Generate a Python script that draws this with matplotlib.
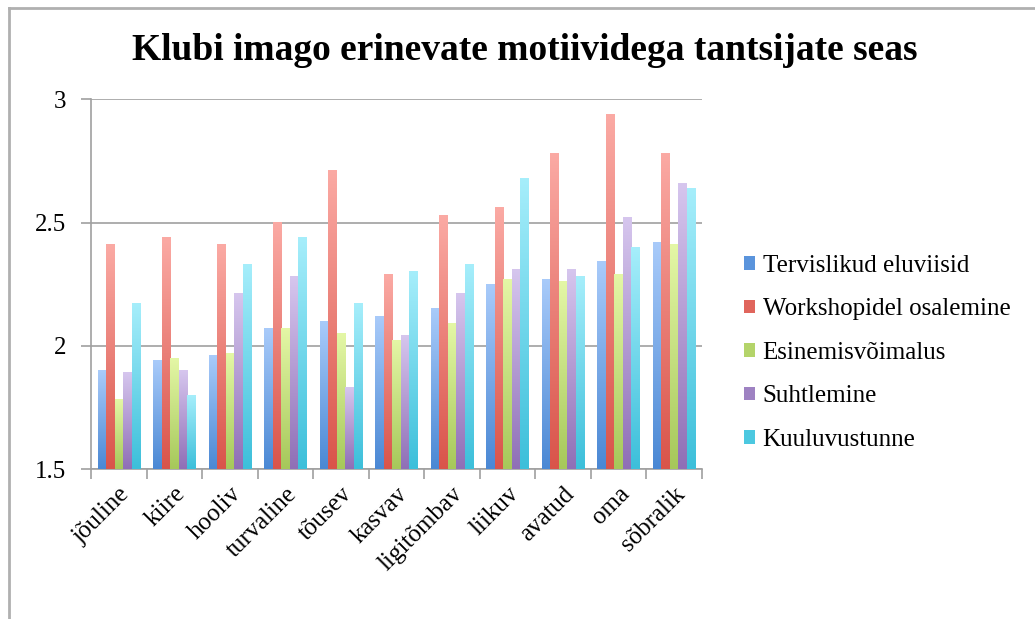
import numpy as np
import matplotlib.pyplot as plt
from matplotlib.colors import LinearSegmentedColormap
from matplotlib.patches import Patch
from matplotlib.lines import Line2D

plt.rcParams["font.family"] = ["Liberation Serif", "DejaVu Serif"]

# Data
categories = ["jõuline", "kiire", "hooliv", "turvaline", "tõusev", "kasvav",
              "ligitõmbav", "liikuv", "avatud", "oma", "sõbralik"]
series_names = ["Tervislikud eluviisid", "Workshopidel osalemine",
                "Esinemisvõimalus", "Suhtlemine", "Kuuluvustunne"]
tervislikud = [1.90, 1.94, 1.96, 2.07, 2.10, 2.12, 2.15, 2.25, 2.27, 2.34, 2.42]
workshopid = [2.41, 2.44, 2.41, 2.50, 2.71, 2.29, 2.53, 2.56, 2.78, 2.94, 2.78]
esinemine = [1.78, 1.95, 1.97, 2.07, 2.05, 2.02, 2.09, 2.27, 2.26, 2.29, 2.41]
suhtlemine = [1.89, 1.90, 2.21, 2.28, 1.83, 2.04, 2.21, 2.31, 2.31, 2.52, 2.66]
kuuluvus = [2.17, 1.80, 2.33, 2.44, 2.17, 2.30, 2.33, 2.68, 2.28, 2.40, 2.64]
yticks = [1.5, 2, 2.5, 3]

all_series = [tervislikud, workshopid, esinemine, suhtlemine, kuuluvus]
# (bottom colour, top colour) for the gradient fill, plus legend colour
gradients = [("#4a88d4", "#a9cbfa"),
             ("#d9544a", "#fbaaa4"),
             ("#a6c85a", "#e4f7a6"),
             ("#8f6fb6", "#d6c6ee"),
             ("#3cbfda", "#a6eefb")]
legend_colors = ["#5a94dc", "#e0655c", "#b4d46a", "#9e82c2", "#4cc8e0"]

fig = plt.figure(figsize=(10.35, 6.19), dpi=100)
ax = fig.add_axes([0.088, 0.2423, 0.590, 0.5973])

ymin = 1.5
x = np.arange(len(categories))
bw = 0.153
grad = np.linspace(0, 1, 256).reshape(-1, 1)

for i, vals in enumerate(all_series):
    cmap = LinearSegmentedColormap.from_list("g%d" % i, gradients[i])
    offs = (i - 2) * bw
    for xi, v in zip(x, vals):
        ax.imshow(grad, extent=[xi + offs - bw / 2, xi + offs + bw / 2, ymin, v],
                  origin="lower", aspect="auto", cmap=cmap, zorder=3,
                  interpolation="bilinear")

ax.set_xlim(-0.5, len(categories) - 0.5)
ax.set_ylim(ymin, 3)
ax.set_yticks(yticks)
ax.set_yticklabels(["1.5", "2", "2.5", "3"], fontsize=18)
ax.set_xticks(x)
ax.set_xticklabels(categories, rotation=45, ha="right", rotation_mode="anchor",
                   fontsize=18)
ax.tick_params(axis="x", length=0, pad=10)
ax.tick_params(axis="y", length=7, color="#a0a0a0", width=1.2, pad=11)

# category boundary ticks
ax.set_xticks(np.arange(-0.5, len(categories)), minor=True)
ax.tick_params(axis="x", which="minor", length=7, color="#a0a0a0", width=1.2)

ax.yaxis.grid(True, color="#a0a0a0", linewidth=1.2, zorder=1)
ax.set_axisbelow(True)
for s in ["top", "right"]:
    ax.spines[s].set_visible(False)
for s in ["left", "bottom"]:
    ax.spines[s].set_color("#a0a0a0")
    ax.spines[s].set_linewidth(1.2)

fig.text(0.507, 0.919, "Klubi imago erinevate motiividega tantsijate seas",
         ha="center", va="center", fontsize=27, fontweight="bold")

handles = [Patch(facecolor=c, edgecolor="none") for c in legend_colors]
fig.legend(handles, series_names, loc="center left",
           bbox_to_anchor=(0.697, 0.430), frameon=False, fontsize=18,
           handlelength=0.45, handleheight=0.45, handletextpad=0.3,
           labelspacing=0.86)

# outer frame of the chart area
fig.add_artist(Line2D([9 / 1035, 9 / 1035], [0, 1 - 8 / 619],
                      transform=fig.transFigure, color="#b0b0b0", linewidth=2))
fig.add_artist(Line2D([9 / 1035, 1], [1 - 8 / 619, 1 - 8 / 619],
                      transform=fig.transFigure, color="#b0b0b0", linewidth=2))

fig.savefig("out.png", dpi=100)
